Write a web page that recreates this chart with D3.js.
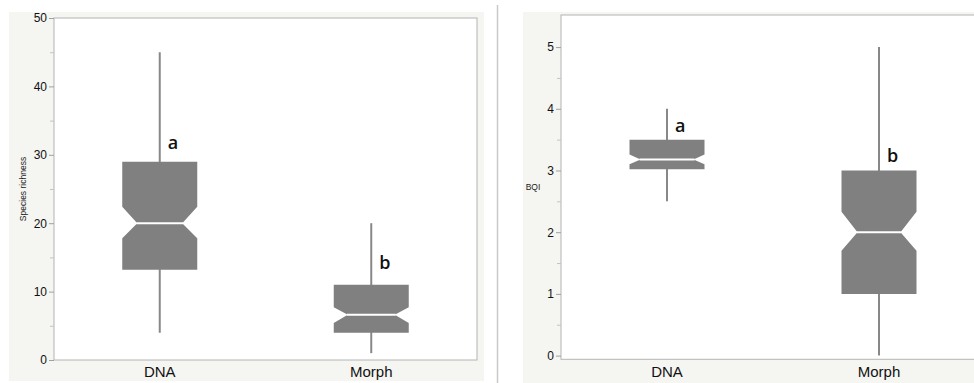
<!DOCTYPE html>
<html lang="en">

<head>
    <meta charset="UTF-8">
    <title>Boxplots</title>
    <script src="https://d3js.org/d3.v7.min.js"></script>
    <style>
        body { margin: 0; background: white; }
    </style>
</head>

<body>
    <div id="tablier"></div>
    <script>
        // ---------------------------------data------------------------------------------------------
        var groups = ["DNA", "Morph"];

        // species richness : min, q1, notch low, median, notch high, q3, max
        var richMin = [4, 1];
        var richQ1 = [13.2, 4];
        var richNotchLo = [17.8, 5.4];
        var richMedian = [20, 6.6];
        var richNotchHi = [22.4, 7.7];
        var richQ3 = [29, 11];
        var richMax = [45, 20];
        var richLetters = ["a", "b"];
        var richLetterY = [30.8, 13.3];
        var richTicks = [0, 10, 20, 30, 40, 50];
        var richMinor = [5, 15, 25, 35, 45];

        // BQI
        var bqiMin = [2.5, 0];
        var bqiQ1 = [3.02, 1];
        var bqiNotchLo = [3.1, 1.7];
        var bqiMedian = [3.18, 2];
        var bqiNotchHi = [3.26, 2.33];
        var bqiQ3 = [3.5, 3];
        var bqiMax = [4, 5];
        var bqiLetters = ["a", "b"];
        var bqiLetterY = [3.62, 3.14];
        var bqiTicks = [0, 1, 2, 3, 4, 5];
        var bqiMinor = [0.5, 1.5, 2.5, 3.5, 4.5];

        // ---------------------------------svg------------------------------------------------------
        var svg = d3.select("#tablier").append("svg").attr("width", 974).attr("height", 383);

        // fonds gris des deux panneaux
        svg.append("rect").attr("x", 9).attr("y", 12).attr("width", 475).attr("height", 369).attr("fill", "#f5f5f1");
        svg.append("rect").attr("x", 523).attr("y", 12).attr("width", 460).attr("height", 371).attr("fill", "#f5f5f1");
        // separateur
        svg.append("line").attr("x1", 497.5).attr("x2", 497.5).attr("y1", 5).attr("y2", 383)
            .attr("stroke", "#c9c9c9").attr("stroke-width", 1.5);

        //------------------------------------------------------------panneau------------------------------------------------------------------------------------
        function panneau(p) {
            var g = svg.append("g");
            var x = d3.scalePoint().domain(groups).range([p.left, p.left + p.width]).padding(0.5);
            var y = d3.scaleLinear().domain(p.domain).range([p.bottom, p.top]);

            g.append("rect").attr("x", p.left).attr("y", p.top)
                .attr("width", p.width).attr("height", p.bottom - p.top)
                .attr("fill", "white").attr("stroke", "#b4b4b4").attr("stroke-width", 1);

            // axe y
            var ax = g.append("g").attr("transform", "translate(" + p.left + ",0)")
                .call(d3.axisLeft(y).tickValues(p.ticks).tickSize(5).tickPadding(2).tickFormat(d3.format("d")));
            ax.select(".domain").remove();
            ax.selectAll(".tick line").attr("stroke", "#a0a0a0");
            ax.selectAll("text").attr("font-family", "Liberation Sans, Arial, sans-serif")
                .attr("font-size", 12).attr("fill", "#111");
            var axm = g.append("g").attr("transform", "translate(" + p.left + ",0)")
                .call(d3.axisLeft(y).tickValues(p.minor).tickSize(4).tickFormat(""));
            axm.select(".domain").remove();
            axm.selectAll(".tick line").attr("stroke", "#c4c4c4");

            // axe x (texte seulement)
            g.selectAll(".xlab").data(groups).enter().append("text")
                .attr("x", d => x(d)).attr("y", 377).attr("text-anchor", "middle")
                .attr("font-family", "Liberation Sans, Arial, sans-serif").attr("font-size", 15)
                .attr("fill", "#111").text(d => d);

            // titre y
            var t = g.append("text").attr("font-family", "Liberation Sans, Arial, sans-serif")
                .attr("font-size", 8.5).attr("fill", "#222").attr("text-anchor", "middle").text(p.label);
            if (p.rotate) t.attr("transform", "translate(" + p.labelX + "," + ((p.top + p.bottom) / 2) + ") rotate(-90)").attr("dy", "0.35em");
            else t.attr("x", p.labelX).attr("y", (p.top + p.bottom) / 2).attr("dy", "0.35em");

            var bw = 75;
            groups.forEach(function(gr, i) {
                var cx = x(gr), l = cx - bw / 2, r = cx + bw / 2;
                var inset = p.inset[i];
                // moustache
                g.append("line").attr("x1", cx).attr("x2", cx)
                    .attr("y1", y(p.min[i])).attr("y2", y(p.max[i]))
                    .attr("stroke", "#888").attr("stroke-width", 2);
                // boite avec encoche
                var d = "M" + l + "," + y(p.q3[i]) + " L" + r + "," + y(p.q3[i]) +
                    " L" + r + "," + y(p.hi[i]) + " L" + (r - inset) + "," + y(p.med[i]) +
                    " L" + r + "," + y(p.lo[i]) + " L" + r + "," + y(p.q1[i]) +
                    " L" + l + "," + y(p.q1[i]) + " L" + l + "," + y(p.lo[i]) +
                    " L" + (l + inset) + "," + y(p.med[i]) + " L" + l + "," + y(p.hi[i]) + " Z";
                g.append("path").attr("d", d).attr("fill", "#808080");
                g.append("line").attr("x1", l + inset - 1).attr("x2", r - inset + 1)
                    .attr("y1", y(p.med[i])).attr("y2", y(p.med[i]))
                    .attr("stroke", "white").attr("stroke-width", 2);
                // lettres
                g.append("text").attr("x", cx + 8).attr("y", y(p.letterY[i]))
                    .attr("font-family", "Open Sans, sans-serif").attr("font-size", 18)
                    .attr("font-weight", 600).attr("fill", "#111").text(p.letters[i]);
            });
        }

        panneau({
            left: 54, width: 423, top: 18, bottom: 360, domain: [0, 50],
            ticks: richTicks, minor: richMinor, label: "Species richness", rotate: true, labelX: 23,
            min: richMin, q1: richQ1, lo: richNotchLo, med: richMedian, hi: richNotchHi, q3: richQ3, max: richMax,
            letters: richLetters, letterY: richLetterY, inset: [15, 14]
        });
        panneau({
            left: 561, width: 424, top: 15, bottom: 359.3, domain: [-0.06, 5.52],
            ticks: bqiTicks, minor: bqiMinor, label: "BQI", rotate: false, labelX: 533,
            min: bqiMin, q1: bqiQ1, lo: bqiNotchLo, med: bqiMedian, hi: bqiNotchHi, q3: bqiQ3, max: bqiMax,
            letters: bqiLetters, letterY: bqiLetterY, inset: [11, 16]
        });
    </script>
</body>

</html>
